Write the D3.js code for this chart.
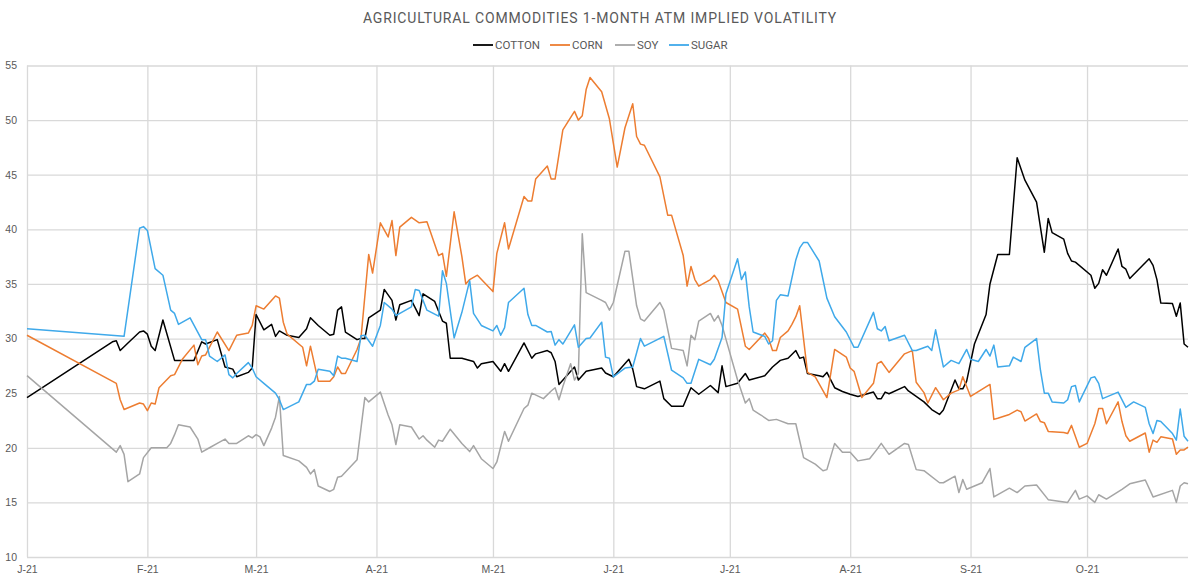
<!DOCTYPE html>
<html>
<head>
<meta charset="utf-8">
<script src="https://cdn.jsdelivr.net/npm/d3@7"></script>
<style>
  body { margin: 0; background: #fff; }
  svg { display: block; font-family: Roboto, "Open Sans", sans-serif; }
</style>
</head>
<body>
<div id="chart"></div>
<script>
// ---- data (2021, MM-DD, implied vol %) ----
var monthLabels = ["J-21", "F-21", "M-21", "A-21", "M-21", "J-21", "J-21", "A-21", "S-21", "O-21"];
var yTicks = [10, 15, 20, 25, 30, 35, 40, 45, 50, 55];
var seriesNames = ["COTTON", "CORN", "SOY", "SUGAR"];

var cotton = [
  ["01-01",24.6],["01-23",29.7],["01-24",29.8],["01-25",28.9],["01-27",29.6],["01-30",30.6],["01-31",30.7],
  ["02-01",30.4],["02-02",29.3],["02-03",28.9],["02-05",31.7],["02-08",28.0],["02-13",28.0],["02-15",29.7],
  ["02-16",29.5],["02-19",29.9],["02-21",27.4],["02-23",27.2],["02-24",26.5],["02-27",26.9],["02-28",27.3],
  ["03-01",32.2],["03-03",30.8],["03-05",31.3],["03-06",30.2],["03-07",30.7],["03-09",30.3],["03-12",30.1],
  ["03-14",30.9],["03-15",31.9],["03-17",31.2],["03-20",30.3],["03-21",30.4],["03-22",32.6],["03-23",32.9],
  ["03-24",30.6],["03-27",29.9],["03-28",30.0],["03-29",30.0],["03-30",31.9],["04-02",32.6],["04-03",34.5],
  ["04-05",33.5],["04-06",31.7],["04-07",33.1],["04-10",33.5],["04-12",32.1],["04-13",34.1],["04-16",33.4],
  ["04-18",31.6],["04-19",31.4],["04-20",28.2],["04-23",28.2],["04-26",27.9],["04-27",27.3],["04-28",27.7],
  ["05-01",27.9],["05-03",27.0],["05-04",27.7],["05-05",27.0],["05-09",29.6],["05-11",28.2],["05-12",28.6],
  ["05-15",28.9],["05-16",28.7],["05-17",27.9],["05-18",25.8],["05-22",27.4],["05-23",26.2],["05-25",27.0],
  ["05-29",27.3],["05-30",26.85],["06-01",26.5],["06-05",28.1],["06-06",27.2],["06-07",25.6],["06-09",25.4],
  ["06-13",26.1],["06-14",24.5],["06-16",23.8],["06-19",23.8],["06-21",25.5],["06-23",24.9],["06-26",25.7],
  ["06-28",25.05],["06-29",27.5],["06-30",25.6],["07-03",25.9],["07-05",26.8],["07-06",26.2],["07-10",26.6],
  ["07-12",27.4],["07-14",28.0],["07-16",28.2],["07-18",28.9],["07-19",28.2],["07-20",28.3],["07-21",26.8],
  ["07-24",26.6],["07-25",26.5],["07-26",26.9],["07-28",25.5],["07-30",25.15],["08-01",24.9],["08-03",24.7],
  ["08-07",25.1],["08-08",24.5],["08-09",24.5],["08-10",25.1],["08-11",24.95],["08-15",25.6],["08-16",25.2],
  ["08-18",24.7],["08-20",24.2],["08-22",23.5],["08-24",23.05],["08-25",23.45],["08-28",26.2],["08-29",25.4],
  ["08-30",25.4],["08-31",26.1],["09-02",29.5],["09-05",32.2],["09-06",35.0],["09-08",37.7],["09-11",37.7],
  ["09-13",46.55],["09-15",44.5],["09-18",42.5],["09-20",37.9],["09-21",41.0],["09-22",39.7],["09-25",39.1],
  ["09-26",37.8],["09-27",37.1],["09-28",37.0],["10-02",35.8],["10-03",34.6],["10-04",35.05],["10-05",36.3],
  ["10-06",35.8],["10-09",38.2],["10-10",36.6],["10-11",36.35],["10-12",35.5],["10-17",37.3],["10-18",36.7],
  ["10-19",35.4],["10-20",33.25],["10-23",33.2],["10-24",32.05],["10-25",33.25],["10-26",29.5],["10-27",29.2]
];

var corn = [
  ["01-01",30.3],["01-24",25.9],["01-25",24.4],["01-26",23.5],["01-30",24.1],["01-31",24.0],["02-01",23.4],
  ["02-02",24.1],["02-03",24.0],["02-04",25.5],["02-07",26.6],["02-08",26.7],["02-10",28.1],["02-13",29.4],
  ["02-14",27.6],["02-15",28.4],["02-16",28.5],["02-19",30.6],["02-22",28.9],["02-24",30.3],["02-27",30.5],
  ["02-28",31.2],["03-01",33.0],["03-03",32.7],["03-06",33.9],["03-07",33.7],["03-08",31.5],["03-09",30.4],
  ["03-13",29.2],["03-14",27.5],["03-15",29.3],["03-17",26.1],["03-20",26.1],["03-21",26.5],["03-22",27.4],
  ["03-23",26.8],["03-24",26.8],["03-27",29.0],["03-28",30.0],["03-30",37.7],["03-31",36.0],["04-02",40.6],
  ["04-04",39.3],["04-05",40.8],["04-06",37.6],["04-07",40.2],["04-10",41.1],["04-12",40.6],["04-14",40.7],
  ["04-17",37.6],["04-18",37.8],["04-19",35.7],["04-21",41.6],["04-23",37.5],["04-24",35.0],["04-25",35.4],
  ["04-27",35.8],["05-01",34.3],["05-02",37.8],["05-04",40.6],["05-05",38.2],["05-09",43.0],["05-10",42.6],
  ["05-11",42.6],["05-12",44.6],["05-15",45.8],["05-16",44.6],["05-17",44.6],["05-19",49.1],["05-22",50.8],
  ["05-23",50.0],["05-24",50.4],["05-25",52.8],["05-26",53.9],["05-29",52.6],["05-31",50.1],["06-02",45.7],
  ["06-04",49.3],["06-06",51.5],["06-07",48.5],["06-08",47.8],["06-09",47.7],["06-13",44.8],["06-15",41.3],
  ["06-16",41.3],["06-19",37.6],["06-20",34.8],["06-21",36.6],["06-22",35.4],["06-23",34.8],["06-26",35.4],
  ["06-27",35.8],["06-28",35.3],["06-30",33.3],["07-03",32.7],["07-05",29.3],["07-06",29.0],["07-10",30.5],
  ["07-11",30.0],["07-12",28.9],["07-13",28.9],["07-14",30.1],["07-16",30.7],["07-17",31.3],["07-18",32.0],
  ["07-19",33.0],["07-21",26.9],["07-23",26.5],["07-26",24.6],["07-28",29.0],["07-31",28.3],["08-01",27.3],
  ["08-02",27.0],["08-04",24.6],["08-07",25.9],["08-08",27.7],["08-09",27.9],["08-11",26.9],["08-15",28.6],
  ["08-17",28.9],["08-18",26.0],["08-20",25.05],["08-21",24.1],["08-23",25.5],["08-25",24.4],["08-27",25.0],
  ["08-29",25.3],["08-30",26.5],["09-01",24.7],["09-06",25.8],["09-07",22.6],["09-08",22.7],["09-11",23.05],
  ["09-13",23.45],["09-14",23.3],["09-15",22.45],["09-18",23.1],["09-19",22.4],["09-20",22.3],["09-21",21.5],
  ["09-25",21.4],["09-26",21.3],["09-27",22.05],["09-29",20.05],["10-01",20.4],["10-03",22.2],["10-04",23.6],
  ["10-05",23.6],["10-06",22.2],["10-09",24.2],["10-10",22.4],["10-11",21.1],["10-12",20.6],["10-16",21.35],
  ["10-17",19.6],["10-18",20.7],["10-19",20.5],["10-20",21.0],["10-23",20.8],["10-24",19.4],["10-25",19.8],
  ["10-26",19.8],["10-27",20.05]
];

var soy = [
  ["01-01",26.6],["01-24",19.6],["01-25",20.2],["01-26",19.4],["01-27",16.9],["01-30",17.6],["01-31",19.1],
  ["02-02",20.0],["02-06",20.0],["02-07",20.4],["02-08",21.2],["02-09",22.1],["02-12",21.9],["02-14",20.8],
  ["02-15",19.6],["02-17",20.0],["02-19",20.4],["02-21",20.8],["02-22",20.4],["02-24",20.4],["02-27",21.1],
  ["02-28",20.9],["03-01",21.2],["03-02",21.0],["03-03",20.2],["03-05",21.8],["03-06",22.8],["03-07",24.7],
  ["03-08",19.3],["03-12",18.8],["03-14",18.2],["03-15",17.6],["03-16",18.0],["03-17",16.5],["03-20",16.0],
  ["03-21",16.2],["03-22",17.3],["03-23",17.4],["03-27",18.9],["03-28",21.75],["03-29",24.6],["03-30",24.2],
  ["04-02",25.1],["04-04",23.0],["04-05",22.1],["04-06",20.3],["04-07",22.1],["04-10",21.9],["04-12",20.8],
  ["04-13",21.1],["04-14",20.7],["04-16",20.05],["04-17",20.7],["04-18",20.6],["04-20",21.7],["04-23",20.4],
  ["04-25",19.65],["04-26",20.2],["04-28",19.0],["05-01",18.1],["05-02",18.7],["05-04",21.5],["05-05",20.6],
  ["05-09",23.6],["05-10",23.9],["05-11",25.0],["05-14",24.5],["05-16",25.2],["05-17",25.5],["05-18",24.4],
  ["05-19",25.6],["05-21",27.7],["05-22",26.2],["05-23",26.8],["05-24",39.6],["05-25",34.2],["05-29",33.5],
  ["05-30",33.3],["05-31",32.6],["06-01",33.3],["06-04",38.0],["06-05",38.0],["06-07",33.0],["06-08",31.8],
  ["06-09",31.6],["06-13",33.3],["06-14",32.6],["06-16",29.1],["06-19",28.9],["06-20",27.5],["06-21",30.3],
  ["06-22",29.9],["06-23",31.6],["06-26",32.3],["06-27",31.6],["06-28",32.1],["06-29",31.2],["06-30",29.95],
  ["07-03",26.2],["07-05",24.1],["07-06",24.5],["07-07",23.45],["07-09",23.0],["07-11",22.5],["07-13",22.6],
  ["07-16",22.2],["07-18",22.2],["07-20",19.1],["07-23",18.5],["07-25",17.9],["07-26",18.0],["07-28",20.4],
  ["07-30",19.6],["08-01",19.6],["08-03",18.8],["08-06",19.0],["08-08",19.9],["08-09",20.4],["08-11",19.4],
  ["08-15",20.4],["08-16",20.3],["08-18",18.0],["08-20",17.9],["08-24",16.8],["08-25",16.8],["08-28",17.4],
  ["08-29",15.9],["08-30",17.1],["08-31",16.2],["09-04",16.8],["09-06",18.1],["09-07",15.5],["09-11",16.3],
  ["09-13",15.9],["09-15",16.5],["09-18",16.6],["09-21",15.25],["09-26",15.0],["09-28",16.1],["09-29",15.3],
  ["10-01",15.6],["10-03",15.0],["10-04",15.7],["10-06",15.3],["10-10",16.2],["10-12",16.7],["10-16",17.05],
  ["10-18",15.5],["10-23",16.1],["10-24",15.0],["10-25",16.5],["10-26",16.8],["10-27",16.7]
];

var sugar = [
  ["01-01",30.9],["01-26",30.2],["01-30",40.1],["01-31",40.25],["02-01",39.9],["02-03",36.4],["02-05",35.8],
  ["02-07",32.6],["02-08",32.3],["02-09",31.3],["02-12",31.9],["02-15",29.9],["02-16",29.9],["02-17",28.4],
  ["02-19",27.9],["02-21",28.5],["02-22",26.7],["02-23",26.4],["02-24",26.8],["02-27",27.8],["02-28",27.3],
  ["03-01",26.5],["03-03",25.9],["03-06",25.0],["03-07",24.4],["03-08",23.5],["03-12",24.2],["03-14",25.8],
  ["03-15",25.8],["03-16",26.1],["03-17",27.2],["03-20",27.0],["03-21",26.6],["03-22",28.4],["03-23",28.2],
  ["03-24",28.2],["03-27",27.9],["03-28",30.25],["03-29",30.3],["03-31",29.3],["04-02",31.2],["04-03",33.3],
  ["04-05",32.7],["04-06",32.1],["04-10",32.9],["04-11",34.5],["04-12",34.4],["04-14",32.6],["04-17",32.05],
  ["04-18",36.2],["04-19",35.05],["04-21",30.05],["04-23",32.4],["04-25",35.3],["04-26",32.3],["04-28",31.2],
  ["05-01",30.7],["05-02",31.2],["05-03",30.3],["05-04",31.0],["05-05",33.3],["05-09",34.6],["05-10",32.2],
  ["05-11",31.2],["05-12",31.2],["05-15",30.6],["05-16",30.65],["05-17",29.4],["05-18",29.9],["05-19",29.5],
  ["05-22",31.25],["05-23",29.2],["05-25",30.0],["05-26",30.05],["05-29",31.5],["05-30",28.3],["05-31",28.2],
  ["06-01",26.5],["06-04",27.3],["06-06",27.4],["06-08",30.0],["06-09",29.3],["06-14",30.2],["06-16",27.1],
  ["06-19",26.4],["06-20",25.9],["06-21",25.9],["06-23",28.1],["06-26",27.6],["06-27",28.1],["06-29",30.1],
  ["06-30",34.1],["07-03",37.3],["07-04",35.4],["07-05",36.1],["07-06",32.9],["07-07",30.6],["07-10",30.2],
  ["07-11",29.5],["07-12",29.8],["07-13",33.5],["07-14",34.0],["07-16",33.9],["07-18",37.2],["07-19",38.3],
  ["07-20",38.8],["07-21",38.8],["07-24",37.1],["07-26",33.7],["07-28",32.0],["07-31",30.6],["08-02",29.2],
  ["08-03",29.2],["08-07",32.4],["08-08",30.9],["08-09",30.7],["08-10",31.1],["08-11",29.8],["08-15",30.3],
  ["08-17",28.9],["08-18",28.9],["08-21",29.3],["08-22",28.9],["08-23",30.8],["08-25",27.4],["08-27",28.0],
  ["08-29",27.7],["08-31",29.0],["09-01",28.1],["09-03",27.9],["09-05",29.0],["09-06",28.4],["09-07",29.4],
  ["09-08",27.4],["09-11",27.5],["09-12",28.3],["09-14",27.9],["09-15",29.2],["09-18",30.0],["09-19",27.1],
  ["09-20",25.0],["09-21",25.0],["09-22",24.2],["09-25",24.1],["09-26",24.4],["09-27",25.6],["09-28",25.7],
  ["09-29",24.2],["10-02",26.4],["10-03",26.5],["10-04",25.9],["10-05",24.5],["10-09",25.1],["10-11",23.7],
  ["10-13",24.2],["10-16",23.7],["10-17",22.2],["10-18",21.3],["10-19",22.5],["10-20",22.4],["10-23",21.3],
  ["10-24",20.7],["10-25",23.55],["10-26",21.05],["10-27",20.6]
];

var seriesColors = ["#000000", "#ED7D31", "#A5A5A5", "#3FA9EA"];

// ---- chart ----
var W = 1200, H = 583;
var plot = {left: 27, right: 1188, top: 65.5, bottom: 557};
var parse = d3.timeParse("%Y-%m-%d");

var x = d3.scaleTime()
    .domain([parse("2021-01-01"), parse("2021-10-27")])
    .range([plot.left, plot.right]);

var y = d3.scaleLinear()
    .domain([10, 55])
    .range([plot.bottom, plot.top]);

var monthTicks = monthLabels.map(function (d, i) { return new Date(2021, i, 1); });

var svg = d3.select("#chart").append("svg")
    .attr("width", W)
    .attr("height", H);

// horizontal grid
svg.append("g")
    .attr("class", "y grid")
    .attr("transform", "translate(" + plot.left + ",0)")
    .call(d3.axisRight(y).tickValues(yTicks).tickSize(plot.right - plot.left).tickFormat(""))
    .call(function (g) {
        g.select(".domain").remove();
        g.selectAll("line").attr("stroke", "#d9d9d9").attr("stroke-width", 1.3);
    });

// vertical month grid
svg.append("g")
    .attr("class", "x grid")
    .attr("transform", "translate(0," + plot.top + ")")
    .call(d3.axisBottom(x).tickValues(monthTicks).tickSize(plot.bottom - plot.top).tickFormat(""))
    .call(function (g) {
        g.select(".domain").remove();
        g.selectAll("line").attr("stroke", "#d9d9d9").attr("stroke-width", 1.3);
    });

// y labels
svg.append("g")
    .attr("class", "y axis")
    .attr("transform", "translate(" + (plot.left - 10) + ",0)")
    .call(d3.axisLeft(y).tickValues(yTicks).tickSize(0).tickPadding(0))
    .call(function (g) {
        g.select(".domain").remove();
        g.selectAll("text").attr("fill", "#595959").style("font-size", "10.5px");
    });

// x labels
svg.append("g")
    .attr("class", "x axis")
    .attr("transform", "translate(0," + plot.bottom + ")")
    .call(d3.axisBottom(x).tickValues(monthTicks).tickSize(0).tickPadding(9)
        .tickFormat(function (d, i) { return monthLabels[i]; }))
    .call(function (g) {
        g.select(".domain").remove();
        g.selectAll("text").attr("fill", "#595959").style("font-size", "10.5px");
    });

// lines
var line = d3.line()
    .x(function (d) { return x(parse("2021-" + d[0])); })
    .y(function (d) { return y(d[1]); });

[cotton, corn, soy, sugar].forEach(function (s, i) {
    svg.append("path")
        .datum(s)
        .attr("fill", "none")
        .attr("stroke", seriesColors[i])
        .attr("stroke-width", 1.5)
        .attr("stroke-linejoin", "round")
        .attr("d", line);
});

// title
svg.append("text")
    .attr("x", 600)
    .attr("y", 23)
    .attr("text-anchor", "middle")
    .attr("fill", "#595959")
    .style("font-size", "14px")
    .style("letter-spacing", "0.85px")
    .text("AGRICULTURAL COMMODITIES 1-MONTH ATM IMPLIED VOLATILITY");

// legend
var legendX = [473, 550, 615, 669];
var legend = svg.append("g").attr("class", "legend");
seriesNames.forEach(function (name, i) {
    var g = legend.append("g").attr("transform", "translate(" + legendX[i] + ",45)");
    g.append("line")
        .attr("x1", 0).attr("x2", 20)
        .attr("stroke", seriesColors[i]).attr("stroke-width", 1.8);
    g.append("text")
        .attr("x", 22).attr("dy", "0.35em")
        .attr("fill", "#595959")
        .style("font-size", "11.5px")
        .text(name);
});
</script>
</body>
</html>
